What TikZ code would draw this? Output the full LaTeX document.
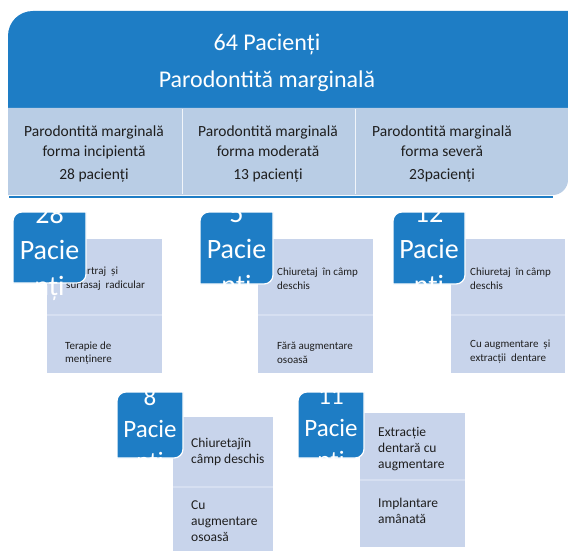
\documentclass[tikz,border=0pt]{standalone}
\usepackage{fontspec}
\setmainfont{Carlito}
\usepackage{tikz}
\usetikzlibrary{positioning}
\definecolor{smartblue}{RGB}{30,125,197}
\definecolor{bandblue}{RGB}{185,205,229}
\definecolor{panelblue}{RGB}{200,212,235}
\definecolor{panelline}{RGB}{214,223,241}
\definecolor{itemtext}{RGB}{30,30,30}

\begin{document}
\begin{tikzpicture}[
    x=1pt, y=-1pt,
    every node/.style={inner sep=0pt},
    title/.style={text=white, font=\fontsize{24}{28}\selectfont},
    bandtext/.style={align=center, text=itemtext, font=\fontsize{15.5}{20}\selectfont},
    panel/.style={fill=panelblue, anchor=north west},
    divider/.style={draw=panelline, line width=1.5pt},
    tabbox/.style={fill=smartblue, draw=white, line width=1.2pt},
    tabtext/.style={align=center, text=white, font=\fontsize{28}{36}\selectfont},
    smalltab/.style={tabtext, font=\fontsize{25}{32}\selectfont},
    item/.style={anchor=west, align=left, text=itemtext, font=\fontsize{11}{13.5}\selectfont},
    bigitem/.style={item, font=\fontsize{13.5}{16}\selectfont}
]
\useasboundingbox (0,0) rectangle (568,551);

% header
\fill[smartblue] (8,108) -- (8,36) .. controls (8,22) and (19,11) .. (33,11)
    -- (568,11) -- (568,108) -- cycle;
\fill[bandblue] (8,108) -- (568,108) -- (568,180) .. controls (568,188) and (561,195) .. (553,195)
    -- (8,195) -- cycle;
\draw[smartblue, line width=2pt] (9,197) -- (553,197);
\draw[white!80!bandblue, line width=1pt] (182,109) -- (182,194);
\draw[white!80!bandblue, line width=1pt] (355,109) -- (355,194);

\node[title] (total) at (267,44) {64 Pacienți};
\node[title] (diag) at (267,81) {Parodontită marginală};

\node[bandtext] (incip) at (94,154) {Parodontită marginală\\forma incipientă\\[3pt]28 pacienți};
\node[bandtext] (moder) at (268,154) {Parodontită marginală\\forma moderată\\[3pt]13 pacienți};
\node[bandtext] (sever) at (442,154) {Parodontită marginală\\forma severă\\[3pt]23pacienți};

% row 1
\node[panel, minimum width=115pt, minimum height=134pt] (pnl1) at (47,239) {};
\node[panel, minimum width=115pt, minimum height=134pt] (pnl2) at (258,239) {};
\node[panel, minimum width=114pt, minimum height=134pt] (pnl3) at (451,239) {};
\draw[divider] (pnl1.west |- 0,315) -- (pnl1.east |- 0,315);
\draw[divider] (pnl2.west |- 0,315) -- (pnl2.east |- 0,315);
\draw[divider] (pnl3.west |- 0,315) -- (pnl3.east |- 0,315);

\node[item] (scal) at (66,278.5) {Detartraj~ și\\surfasaj~ radicular};
\node[item] (ment) at (65,353) {Terapie de\\menținere};
\node[item] (chir1) at (277,278.5) {Chiuretaj~ în câmp\\deschis};
\node[item] (fara) at (277,353) {Fără augmentare\\osoasă};
\node[item] (chir2) at (470,278.5) {Chiuretaj~ în câmp\\deschis};
\node[item] (extr) at (470,351.5) {Cu augmentare~ și\\extracții~ dentare};

\path[tabbox] (13,283) -- (13,221) .. controls (13,216) and (17,212) .. (22,212)
    -- (86,212) -- (86,274) .. controls (86,279) and (82,283) .. (77,283) -- cycle;
\path[tabbox] (200,284) -- (200,221) .. controls (200,216) and (204,212) .. (209,212)
    -- (273,212) -- (273,275) .. controls (273,280) and (269,284) .. (264,284) -- cycle;
\path[tabbox] (393,284) -- (393,221) .. controls (393,216) and (397,212) .. (402,212)
    -- (465,212) -- (465,275) .. controls (465,280) and (461,284) .. (456,284) -- cycle;
\node[tabtext] (n28) at (49.5,252) {28\\Pacie\\nți};
\node[tabtext] (n5) at (236.5,252) {5\\Pacie\\nți};
\node[tabtext] (n12) at (429,252) {12\\Pacie\\nți};

% row 2
\node[panel, minimum width=100pt, minimum height=134pt] (pnl4) at (173,417) {};
\node[panel, minimum width=105pt, minimum height=134pt] (pnl5) at (360,413) {};
\draw[divider] (pnl4.west |- 0,487) -- (pnl4.east |- 0,487);
\draw[divider] (pnl5.west |- 0,480) -- (pnl5.east |- 0,480);

\node[bigitem] (chir3) at (191,451.5) {Chiuretajîn\\câmp deschis};
\node[bigitem] (osoasa) at (191,521) {Cu\\augmentare\\osoasă};
\node[bigitem] (dent) at (378,449) {Extracție\\dentară cu\\augmentare};
\node[bigitem] (impl) at (378,510.5) {Implantare\\amânată};

\path[tabbox] (117,458) -- (117,401) .. controls (117,396) and (121,392) .. (126,392)
    -- (183,392) -- (183,449) .. controls (183,454) and (179,458) .. (174,458) -- cycle;
\path[tabbox] (298,458) -- (298,401) .. controls (298,396) and (302,392) .. (307,392)
    -- (364,392) -- (364,449) .. controls (364,454) and (360,458) .. (355,458) -- cycle;
\node[smalltab] (n8) at (150,431) {8\\Pacie\\nți};
\node[smalltab] (n11) at (331,431) {11\\Pacie\\nți};
\end{tikzpicture}
\end{document}
